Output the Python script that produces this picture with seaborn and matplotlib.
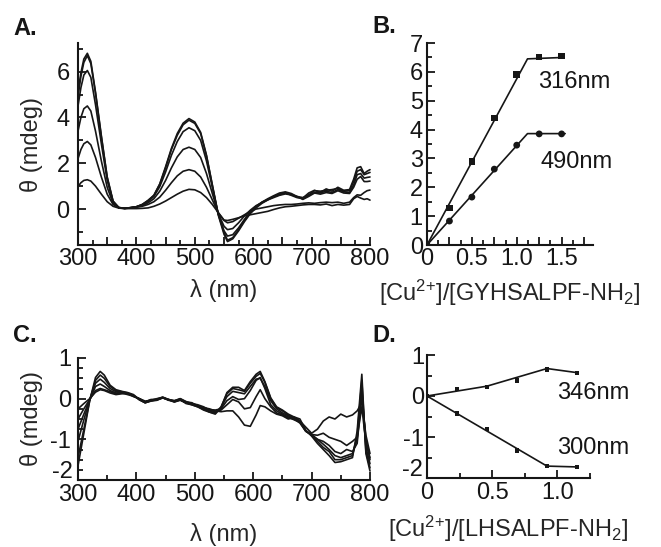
import matplotlib
matplotlib.use("Agg")
import matplotlib.pyplot as plt
import seaborn as sns
from matplotlib.ticker import FixedLocator, MultipleLocator, FuncFormatter

# ============================
# DATA
# ============================
# Panel A: CD spectra, GYHSALPF-NH2 + Cu2+ (0.25 ... 1.5 eq)
WL_A = [300, 305, 310, 316, 322, 330, 340, 350, 360, 370,
        380, 390, 400, 410, 420, 430, 440, 450, 460, 470,
        480, 490, 500, 510, 520, 530, 540, 550, 556, 565,
        575, 585, 595, 605, 615, 625, 635, 645, 655, 665,
        675, 685, 695, 705, 715, 725, 735, 745, 755, 765,
        772, 778, 784, 790, 795, 800]

A_025 = [0.98, 1.15, 1.25, 1.28, 1.22, 1.0, 0.65, 0.32, 0.12, 0.04,
         0.02, 0.02, 0.02, 0.03, 0.05, 0.12, 0.22, 0.35, 0.5, 0.65,
         0.78, 0.86, 0.84, 0.72, 0.5, 0.2, -0.15, -0.48, -0.5, -0.45,
         -0.38, -0.3, -0.25, -0.2, -0.15, -0.1, -0.02, 0.05, 0.1, 0.12,
         0.15, 0.18, 0.2, 0.2, 0.18, 0.22, 0.15, 0.2, 0.17, 0.2,
         0.45, 0.55, 0.48, 0.42, 0.45, 0.39]
A_050 = [2.2, 2.6, 2.85, 2.95, 2.8, 2.25, 1.4, 0.65, 0.2, 0.06,
         0.04, 0.06, 0.08, 0.12, 0.2, 0.32, 0.52, 0.82, 1.15, 1.45,
         1.65, 1.72, 1.65, 1.4, 0.95, 0.4, -0.15, -0.5, -0.6, -0.55,
         -0.4, -0.25, -0.1, 0.0, 0.05, 0.1, 0.15, 0.18, 0.2, 0.2,
         0.22, 0.25, 0.27, 0.25, 0.28, 0.3, 0.28, 0.3, 0.25, 0.3,
         0.5, 0.62, 0.6, 0.72, 0.8, 0.83]
A_075 = [3.4, 4.0, 4.38, 4.5, 4.28, 3.4, 2.1, 0.95, 0.25, 0.06,
         0.03, 0.06, 0.09, 0.15, 0.27, 0.45, 0.78, 1.25, 1.8, 2.28,
         2.6, 2.7, 2.6, 2.25, 1.55, 0.68, -0.18, -0.75, -0.9, -0.85,
         -0.6, -0.3, -0.05, 0.15, 0.28, 0.4, 0.5, 0.6, 0.66, 0.62,
         0.55, 0.42, 0.55, 0.7, 0.65, 0.72, 0.68, 0.8, 0.7, 0.68,
         0.95, 1.3, 1.42, 1.2, 1.2, 1.22]
A_100 = [4.5, 5.3, 5.85, 6.05, 5.75, 4.55, 2.85, 1.25, 0.32, 0.07,
         0.03, 0.06, 0.1, 0.18, 0.33, 0.55, 0.98, 1.62, 2.35, 2.95,
         3.38, 3.55, 3.42, 3.0, 2.1, 0.95, -0.2, -0.95, -1.18, -1.12,
         -0.82, -0.45, -0.12, 0.12, 0.3, 0.42, 0.55, 0.62, 0.7, 0.65,
         0.52, 0.45, 0.6, 0.72, 0.7, 0.78, 0.72, 0.85, 0.75, 0.72,
         1.05, 1.5, 1.55, 1.35, 1.38, 1.4]
A_125 = [4.9, 5.8, 6.4, 6.7, 6.35, 5.05, 3.15, 1.38, 0.34, 0.06,
         0.03, 0.06, 0.1, 0.2, 0.37, 0.6, 1.08, 1.8, 2.6, 3.22,
         3.68, 3.88, 3.74, 3.3, 2.32, 1.05, -0.2, -1.02, -1.36, -1.25,
         -0.9, -0.5, -0.15, 0.1, 0.3, 0.45, 0.58, 0.7, 0.75, 0.68,
         0.55, 0.5, 0.62, 0.8, 0.78, 0.82, 0.85, 0.9, 0.78, 0.8,
         1.2, 1.65, 1.72, 1.5, 1.55, 1.6]
A_150 = [5.1, 5.95, 6.55, 6.8, 6.45, 5.1, 3.2, 1.4, 0.35, 0.05,
         0.02, 0.05, 0.1, 0.2, 0.38, 0.6, 1.1, 1.85, 2.65, 3.3,
         3.75, 3.95, 3.8, 3.35, 2.35, 1.05, -0.25, -1.1, -1.42, -1.3,
         -0.95, -0.55, -0.2, 0.05, 0.25, 0.4, 0.55, 0.65, 0.72, 0.6,
         0.5, 0.48, 0.7, 0.82, 0.72, 0.88, 0.78, 0.95, 0.82, 0.85,
         1.3, 1.8, 1.85, 1.55, 1.65, 1.72]

# Panel B: titration, GYHSALPF-NH2
EQ_B = [0, 0.25, 0.5, 0.75, 1.0, 1.25, 1.5]
B_316 = [0, 1.28, 2.9, 4.4, 5.9, 6.52, 6.55]
B_490 = [0, 0.83, 1.66, 2.63, 3.46, 3.85, 3.85]
FIT_X_316 = [0, 1.12, 1.52]
FIT_Y_316 = [0, 6.45, 6.5]
FIT_X_490 = [0, 1.12, 1.54]
FIT_Y_490 = [0, 3.86, 3.86]

# Panel C: CD spectra, LHSALPF-NH2 + Cu2+
WL_C = [300, 310, 320, 330, 338, 345, 355, 365, 375, 385,
        395, 405, 415, 425, 435, 445, 455, 465, 475, 485,
        495, 505, 515, 525, 535, 545, 555, 565, 575, 585,
        595, 605, 612, 620, 630, 640, 650, 660, 670, 680,
        690, 700, 710, 720, 730, 740, 750, 760, 770, 778,
        786, 793, 800]

C_1 = [-0.25, -0.12, 0.0, 0.16, 0.22, 0.2, 0.14, 0.1, 0.12, 0.13,
       0.05, 0.0, -0.08, -0.02, -0.03, 0.02, -0.02, -0.05, 0.0, -0.08,
       -0.1, -0.18, -0.22, -0.25, -0.3, -0.32, -0.3, -0.3, -0.45, -0.65,
       -0.68, -0.4, -0.17, -0.2, -0.3, -0.38, -0.42, -0.5, -0.45, -0.55,
       -0.7, -0.85, -0.75, -0.55, -0.45, -0.5, -0.38, -0.45, -0.4, -0.3,
       -0.1, -0.9, -1.35]
C_2 = [-0.5, -0.25, -0.02, 0.2, 0.25, 0.22, 0.17, 0.12, 0.14, 0.1,
       0.06, 0.0, -0.06, -0.04, 0.0, 0.03, -0.04, -0.05, -0.03, -0.1,
       -0.12, -0.15, -0.2, -0.28, -0.32, -0.28, -0.15, -0.02, -0.08, -0.25,
       -0.22, 0.05, 0.22, 0.0, -0.2, -0.35, -0.4, -0.48, -0.5, -0.6,
       -0.8, -0.88, -0.9, -0.85, -0.95, -1.0, -1.05, -1.15, -1.05, -0.95,
       -0.2, -1.1, -1.45]
C_3 = [-0.75, -0.38, -0.03, 0.3, 0.36, 0.3, 0.2, 0.14, 0.15, 0.12,
       0.07, 0.0, -0.08, -0.03, -0.01, 0.04, -0.02, -0.06, 0.0, -0.07,
       -0.12, -0.17, -0.22, -0.27, -0.28, -0.25, -0.05, 0.05, -0.02, 0.0,
       0.2, 0.45, 0.52, 0.25, -0.15, -0.3, -0.38, -0.45, -0.52, -0.58,
       -0.8, -0.9, -1.0, -1.05, -1.15, -1.3, -1.35, -1.25, -1.3, -1.1,
       0.1, -1.0, -1.5]
C_4 = [-1.05, -0.52, -0.02, 0.38, 0.48, 0.4, 0.25, 0.17, 0.16, 0.12,
       0.08, -0.02, -0.1, -0.05, -0.02, 0.02, -0.03, -0.08, -0.04, -0.1,
       -0.14, -0.18, -0.25, -0.3, -0.35, -0.22, 0.05, 0.18, 0.15, 0.12,
       0.3, 0.48, 0.5, 0.3, -0.05, -0.25, -0.35, -0.42, -0.5, -0.55,
       -0.8, -0.88, -1.0, -1.12, -1.25, -1.4, -1.45, -1.4, -1.35, -1.0,
       0.24, -1.2, -1.6]
C_5 = [-1.45, -0.75, -0.05, 0.45, 0.58, 0.5, 0.3, 0.2, 0.17, 0.14,
       0.08, -0.03, -0.1, -0.05, -0.03, 0.03, -0.02, -0.07, -0.02, -0.12,
       -0.15, -0.2, -0.26, -0.33, -0.36, -0.2, 0.12, 0.25, 0.22, 0.18,
       0.38, 0.55, 0.62, 0.4, 0.0, -0.22, -0.3, -0.4, -0.48, -0.55,
       -0.78, -0.9, -1.05, -1.2, -1.3, -1.5, -1.5, -1.45, -1.4, -0.9,
       0.45, -1.3, -1.7]
C_6 = [-1.65, -0.85, -0.05, 0.52, 0.67, 0.58, 0.33, 0.22, 0.18, 0.15,
       0.1, -0.02, -0.1, -0.06, -0.04, 0.02, -0.03, -0.08, -0.03, -0.1,
       -0.15, -0.2, -0.28, -0.33, -0.38, -0.22, 0.15, 0.28, 0.28, 0.2,
       0.42, 0.6, 0.67, 0.42, 0.02, -0.2, -0.28, -0.38, -0.45, -0.5,
       -0.78, -0.92, -1.1, -1.25, -1.4, -1.57, -1.55, -1.5, -1.45, -0.8,
       0.6, -1.35, -1.78]

# Panel D: titration, LHSALPF-NH2
EQ_D = [0, 0.23, 0.46, 0.69, 0.92, 1.15]
D_346 = [0, 0.17, 0.22, 0.38, 0.65, 0.56]
D_300 = [0, -0.43, -0.8, -1.33, -1.71, -1.73]
FIT_X_346 = [0, 0.46, 0.92, 1.15]
FIT_Y_346 = [0, 0.24, 0.67, 0.57]
FIT_X_300 = [0, 0.92, 1.15]
FIT_Y_300 = [0, -1.71, -1.73]

# ============================
# STYLE
# ============================
sns.set_style("ticks")
plt.rcParams["font.family"] = ["Liberation Sans", "DejaVu Sans"]
plt.rcParams["mathtext.fontset"] = "custom"
plt.rcParams["mathtext.rm"] = "Liberation Sans"
plt.rcParams["mathtext.it"] = "Liberation Sans:italic"
plt.rcParams["axes.unicode_minus"] = False

TICK_FS = 17
LABEL_FS = 17
INK = "#161616"


def style_axes(ax, ypad, xpad=2):
    for s in ["top", "right"]:
        ax.spines[s].set_visible(False)
    for s in ["left", "bottom"]:
        ax.spines[s].set_linewidth(1.5)
        ax.spines[s].set_color(INK)
    ax.tick_params(which="both", direction="in", width=1.3, color=INK,
                   labelsize=TICK_FS, labelcolor=INK)
    ax.tick_params(which="major", length=6)
    ax.tick_params(which="minor", length=3.5)
    ax.tick_params(axis="x", pad=xpad)
    ax.tick_params(axis="y", pad=ypad)


def every(step, fmt):
    def f(v, _):
        if abs(v / step - round(v / step)) < 1e-6:
            return fmt(v)
        return ""
    return FuncFormatter(f)


def int_labels_except_bottom(bottom):
    # bottom label is drawn separately, lifted a bit above the x tick labels
    return FuncFormatter(lambda v, _: "" if abs(v - bottom) < 1e-6 else f"{v:.0f}")


def spectra(ax, wl, curves):
    for c in curves:
        sns.lineplot(x=wl, y=c, ax=ax, color=INK, linewidth=1.2,
                     sort=False, legend=False)


fig = plt.figure(figsize=(6.61, 5.47), dpi=100)
W, H = 661, 547


def box(left, top, right, bottom):
    return [left / W, 1 - bottom / H, (right - left) / W, (bottom - top) / H]


axA = fig.add_axes(box(78, 43, 370, 245))
axB = fig.add_axes(box(427, 43, 593, 245))
axC = fig.add_axes(box(78, 358, 370, 480))
axD = fig.add_axes(box(427, 355, 590, 478))

# ---- A ----
spectra(axA, WL_A, [A_025, A_050, A_075, A_100, A_125, A_150])
axA.set_xlim(300, 800)
axA.set_ylim(-1.57, 7.25)
axA.xaxis.set_major_locator(MultipleLocator(50))
axA.xaxis.set_minor_locator(MultipleLocator(25))
axA.xaxis.set_major_formatter(every(100, lambda v: f"{v:.0f}"))
axA.yaxis.set_major_locator(FixedLocator([0, 2, 4, 6]))
axA.yaxis.set_minor_locator(FixedLocator([-1, 1, 3, 5, 7]))
axA.set_xlabel("λ (nm)", fontsize=LABEL_FS, labelpad=7)
axA.set_ylabel("θ (mdeg)", fontsize=LABEL_FS, labelpad=10)
style_axes(axA, 6)

# ---- B ----
sns.lineplot(x=FIT_X_316, y=FIT_Y_316, ax=axB, color=INK, linewidth=1.2, sort=False)
sns.lineplot(x=FIT_X_490, y=FIT_Y_490, ax=axB, color=INK, linewidth=1.2, sort=False)
sns.scatterplot(x=EQ_B, y=B_316, ax=axB, marker="s", s=22, color=INK,
                edgecolor="none", zorder=3)
sns.scatterplot(x=EQ_B, y=B_490, ax=axB, marker="o", s=24, color=INK,
                edgecolor="none", zorder=3)
axB.set_xlim(0, 1.85)
axB.set_ylim(0, 7)
axB.xaxis.set_major_locator(MultipleLocator(0.25))
axB.xaxis.set_minor_locator(MultipleLocator(0.125))
axB.xaxis.set_major_formatter(every(0.5, lambda v: "0" if v == 0 else f"{v:.1f}"))
axB.yaxis.set_major_locator(MultipleLocator(1))
axB.yaxis.set_minor_locator(MultipleLocator(0.5))
axB.set_xlabel(r"[Cu$^{2{+}}$]/[GYHSALPF-NH$_2$]", fontsize=LABEL_FS, labelpad=6)
axB.text(1.24, 5.65, "316nm", fontsize=LABEL_FS, va="center", ha="left", color=INK)
axB.text(1.26, 2.88, "490nm", fontsize=LABEL_FS, va="center", ha="left", color=INK)
style_axes(axB, 3)

# ---- C ----
spectra(axC, WL_C, [C_1, C_2, C_3, C_4, C_5, C_6])
axC.set_xlim(300, 800)
axC.set_ylim(-2, 1)
axC.xaxis.set_major_locator(MultipleLocator(100))
axC.xaxis.set_minor_locator(MultipleLocator(50))
axC.yaxis.set_major_locator(MultipleLocator(1))
axC.yaxis.set_minor_locator(MultipleLocator(0.25))
axC.yaxis.set_major_formatter(int_labels_except_bottom(-2))
axC.annotate("-2", xy=(0, -2), xycoords=("axes fraction", "data"),
             xytext=(-4, 6), textcoords="offset points",
             ha="right", va="center", fontsize=TICK_FS, color=INK)
axC.set_xlabel("λ (nm)", fontsize=LABEL_FS, labelpad=12)
axC.set_ylabel("θ (mdeg)", fontsize=LABEL_FS, labelpad=5)
style_axes(axC, 5, xpad=3)

# ---- D ----
sns.lineplot(x=FIT_X_346, y=FIT_Y_346, ax=axD, color=INK, linewidth=1.2, sort=False)
sns.lineplot(x=FIT_X_300, y=FIT_Y_300, ax=axD, color=INK, linewidth=1.2, sort=False)
sns.scatterplot(x=EQ_D, y=D_346, ax=axD, marker="s", s=10, color=INK,
                edgecolor="none", zorder=3)
sns.scatterplot(x=EQ_D, y=D_300, ax=axD, marker="s", s=10, color=INK,
                edgecolor="none", zorder=3)
axD.set_xlim(0, 1.25)
axD.set_ylim(-2, 1)
axD.xaxis.set_major_locator(MultipleLocator(0.5))
axD.xaxis.set_minor_locator(MultipleLocator(0.25))
axD.xaxis.set_major_formatter(FuncFormatter(lambda v, _: "0" if v == 0 else f"{v:.1f}"))
axD.yaxis.set_major_locator(MultipleLocator(1))
axD.yaxis.set_minor_locator(MultipleLocator(0.5))
axD.yaxis.set_major_formatter(int_labels_except_bottom(-2))
axD.annotate("-2", xy=(0, -2), xycoords=("axes fraction", "data"),
             xytext=(-3, 6), textcoords="offset points",
             ha="right", va="center", fontsize=TICK_FS, color=INK)
axD.set_xlabel(r"[Cu$^{2{+}}$]/[LHSALPF-NH$_2$]", fontsize=LABEL_FS, labelpad=7)
axD.text(1.0, 0.07, "346nm", fontsize=LABEL_FS, va="center", ha="left", color=INK)
axD.text(1.0, -1.28, "300nm", fontsize=LABEL_FS, va="center", ha="left", color=INK)
style_axes(axD, 2, xpad=3)

# ---- panel letters ----
for letter, x, y in [("A.", 13, 35), ("B.", 372, 33), ("C.", 13, 342), ("D.", 372, 342)]:
    fig.text(x / W, 1 - y / H, letter, fontsize=LABEL_FS, fontweight="bold",
             va="baseline", ha="left", color=INK)

for ax in (axA, axB, axC, axD):
    for line in ax.get_lines():
        line.set_clip_on(False)

fig.savefig("out.png", dpi=100)
